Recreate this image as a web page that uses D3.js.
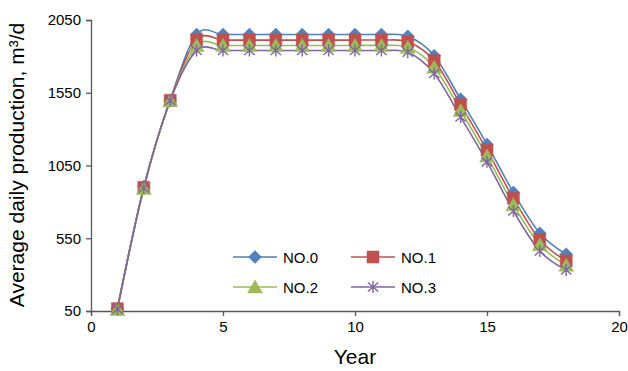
<!DOCTYPE html>
<html><head><meta charset="utf-8">
<script src="https://cdn.jsdelivr.net/npm/d3@7"></script>
<style>body{margin:0;background:#fff}svg{display:block}</style>
</head><body>
<script>
const years = [1,2,3,4,5,6,7,8,9,10,11,12,13,14,15,16,17,18];
const no0 = [68,905,1500,1950,1950,1950,1950,1950,1950,1950,1950,1938,1805,1505,1195,865,585,440];
const no1 = [66,900,1498,1912,1912,1912,1912,1912,1912,1912,1912,1900,1770,1468,1155,825,540,395];
const no2 = [60,892,1495,1875,1875,1875,1875,1875,1875,1875,1875,1862,1725,1428,1115,780,505,365];
const no3 = [62,896,1497,1840,1840,1840,1840,1840,1840,1840,1840,1828,1682,1383,1075,737,462,332];
const seriesNames = ["NO.0","NO.1","NO.2","NO.3"];
const xTicks = [0,5,10,15,20];
const yTicks = [50,550,1050,1550,2050];

const colors = ["#4F81BD","#C0504D","#9BBB59","#8064A2"];
const markerTypes = ["diamond","square","triangle","star"];
const allSeries = [no0,no1,no2,no3];

const W=628,H=371;
const svg = d3.select("body").append("svg").attr("width",W).attr("height",H);
const x = d3.scaleLinear().domain([0,20]).range([91,619]);
const y = d3.scaleLinear().domain([50,2050]).range([311,20]);
const font = "Liberation Sans, Arial, sans-serif";
const axisColor = "#595959";

// axes
const xa = svg.append("g").attr("transform",`translate(0,${y(50)})`)
  .call(d3.axisBottom(x).tickValues(xTicks).tickSize(5).tickPadding(5).tickFormat(d3.format("d")));
const ya = svg.append("g").attr("transform",`translate(${x(0)},0)`)
  .call(d3.axisLeft(y).tickValues(yTicks).tickSize(5).tickPadding(5).tickFormat(d3.format("d")));
[xa,ya].forEach(g=>{
  g.select(".domain").attr("stroke",axisColor).attr("stroke-width",1.3);
  g.selectAll(".tick line").attr("stroke",axisColor).attr("stroke-width",1.3);
  g.selectAll("text").attr("font-family",font).attr("font-size",15).attr("fill","#000");
});

// labels
svg.append("text").attr("x",x(10)).attr("y",364).attr("text-anchor","middle")
  .attr("font-family",font).attr("font-size",21).text("Year");
svg.append("text").attr("transform",`translate(24,${(18+312)/2}) rotate(-90)`)
  .attr("text-anchor","middle").attr("font-family",font).attr("font-size",21)
  .text("Average daily production, m³/d");

function markerPath(type){
  if(type==="diamond") return "M0,-6.5L6.5,0L0,6.5L-6.5,0Z";
  if(type==="square") return "M-6,-6H6V6H-6Z";
  if(type==="triangle") return "M0,-7L7.5,6L-7.5,6Z";
  return "M0,-6V6M-5.2,-4.5L5.2,4.5M-5.2,4.5L5.2,-4.5";
}
function drawMarker(g,type,color,cx,cy){
  const p = g.append("path").attr("transform",`translate(${cx},${cy})`).attr("d",markerPath(type));
  if(type==="star") p.attr("fill","none").attr("stroke",color).attr("stroke-width",1.4);
  else p.attr("fill",color).attr("stroke",color).attr("stroke-width",0.5);
}

const line = d3.line().x((d,i)=>x(years[i])).y(d=>y(d)).curve(d3.curveCatmullRom.alpha(0));
const plot = svg.append("g");
allSeries.forEach((s,k)=>{
  plot.append("path").attr("d",line(s)).attr("fill","none").attr("stroke",colors[k]).attr("stroke-width",1.6);
});
allSeries.forEach((s,k)=>{
  const g = plot.append("g");
  s.forEach((v,i)=>drawMarker(g,markerTypes[k],colors[k],x(years[i]),y(v)));
});

// legend
const legPos = [[233,257],[351,257],[233,287],[351,287]];
seriesNames.forEach((n,k)=>{
  const [lx,ly]=legPos[k];
  const g = svg.append("g");
  g.append("line").attr("x1",lx).attr("x2",lx+44).attr("y1",ly).attr("y2",ly).attr("stroke",colors[k]).attr("stroke-width",1.6);
  drawMarker(g,markerTypes[k],colors[k],lx+22,ly);
  g.append("text").attr("x",lx+50).attr("y",ly+5.5).attr("font-family",font).attr("font-size",15).text(n);
});
</script>
</body></html>
